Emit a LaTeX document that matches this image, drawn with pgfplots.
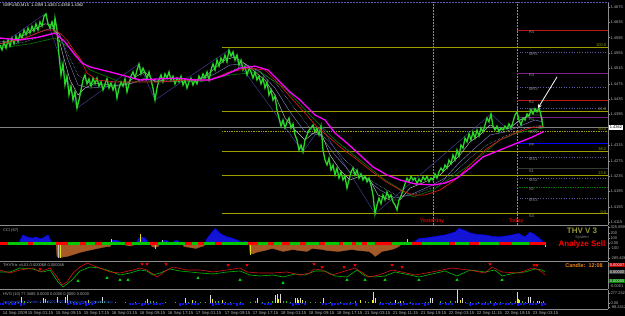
\documentclass[border=0pt]{standalone}
\usepackage{pgfplots}
\pgfplotsset{compat=1.18}
\usepackage{fontspec}
\setmainfont{Liberation Sans}
\usetikzlibrary{arrows.meta}
\definecolor{fibc}{rgb}{0.62,0.62,0.0}
\definecolor{pricec}{RGB}{40,215,40}
\definecolor{lblc}{RGB}{175,175,175}
\definecolor{axc}{RGB}{140,140,140}
\definecolor{mrc}{RGB}{90,90,170}
\definecolor{pvred}{RGB}{185,20,20}
\definecolor{pvpur}{RGB}{125,30,135}
\definecolor{brownc}{RGB}{165,90,40}
\definecolor{cciblue}{RGB}{20,20,215}
\definecolor{thvc}{RGB}{150,150,50}
\definecolor{candc}{RGB}{240,130,20}
\definecolor{pivlbl}{RGB}{130,130,130}
\definecolor{zzc}{RGB}{70,70,170}
\definecolor{ma2c}{RGB}{120,120,190}
\definecolor{ma3c}{RGB}{150,180,220}
\definecolor{madg}{RGB}{0,125,0}
\definecolor{ma1c}{RGB}{190,190,190}
\definecolor{redma}{RGB}{205,25,25}
\definecolor{magc}{RGB}{255,0,255}
\definecolor{trixg}{RGB}{0,190,0}
\definecolor{trixr}{RGB}{215,20,20}
\definecolor{arrg}{RGB}{0,220,0}
\definecolor{ccig}{RGB}{0,200,0}
\definecolor{volb}{RGB}{20,20,235}
\definecolor{volg}{RGB}{60,190,30}
\definecolor{voly}{RGB}{235,235,40}
\definecolor{volw}{RGB}{220,220,220}
\definecolor{intbl}{RGB}{40,60,255}
\newcommand{\fs}[1]{\fontsize{#1}{#1}\selectfont}
\pgfplotsset{mt/.style={scale only axis, width=608pt, xmin=0, xmax=608, anchor=south west,
  axis x line*=bottom, axis y line*=right, axis line style={draw=axc, line width=0.5pt},
  xtick=\empty, ytick=\empty, yticklabel pos=right, tick align=outside, major tick length=1.5pt,
  tick style={axc, line width=0.4pt},
  yticklabel style={font=\fs{4}, text=lblc, inner sep=0.8pt},
  xticklabel style={font=\fs{4.3}, text=lblc, inner sep=0.6pt}}}
\tikzset{pvl/.style={font=\fs{4.3}, text=pivlbl, anchor=north west, inner sep=0.6pt},
  fbl/.style={font=\fs{4}, text=fibc, anchor=south east, inner sep=0.6pt}}
\begin{document}
\begin{tikzpicture}
\fill[black] (0pt,0pt) rectangle (625pt,316pt);
% ================= MAIN PRICE PANEL =================
\begin{axis}[mt, at={(0pt,91pt)}, height=223pt, ymin=1.4108, ymax=1.46878,
 ytick={1.4115,1.4155,1.4195,1.4235,1.4275,1.4315,1.4395,1.4435,1.4475,1.4515,1.4555,1.4595,1.4635,1.4675},
 yticklabels={1.4115,1.4155,1.4195,1.4235,1.4275,1.4315,1.4395,1.4435,1.4475,1.4515,1.4555,1.4595,1.4635,1.4675}]
\addplot[axc, densely dotted, line width=0.5pt] coordinates {(433,1.4108)(433,1.46878)};
\addplot[color=fibc, densely dotted, line width=0.5pt] coordinates {(517,1.4108)(517,1.46878)};
\addplot[gray, line width=0.5pt] coordinates {(0,1.4362)(608,1.4362)};
\addplot[color=fibc, line width=0.8pt] coordinates {(222,1.4571)(608,1.4571)};
\addplot[color=fibc, line width=0.8pt] coordinates {(222,1.4404)(608,1.4404)};
\addplot[color=fibc, densely dotted, line width=0.7pt] coordinates {(222,1.4352)(608,1.4352)};
\addplot[color=fibc, line width=0.8pt] coordinates {(222,1.4300)(608,1.4300)};
\addplot[color=fibc, line width=0.8pt] coordinates {(222,1.4238)(608,1.4238)};
\addplot[color=fibc, line width=0.8pt] coordinates {(222,1.4137)(608,1.4137)};
\node[fbl] at (axis cs:607,1.4571) {100.0};
\node[fbl] at (axis cs:607,1.4404) {61.8};
\node[fbl] at (axis cs:607,1.4352) {50.0};
\node[fbl] at (axis cs:607,1.4300) {38.2};
\node[fbl] at (axis cs:607,1.4238) {23.6};
\node[fbl] at (axis cs:607,1.4137) {0.0};
\addplot[pvred, line width=0.8pt] coordinates {(517,1.4615)(608,1.4615)};
\addplot[mrc, dotted, line width=0.6pt] coordinates {(517,1.4558)(608,1.4558)};
\addplot[pvpur, line width=0.9pt] coordinates {(517,1.4503)(608,1.4503)};
\addplot[mrc, dotted, line width=0.6pt] coordinates {(517,1.4467)(608,1.4467)};
\addplot[pvred, line width=0.8pt] coordinates {(517,1.4433)(608,1.4433)};
\addplot[mrc, dotted, line width=0.6pt] coordinates {(517,1.4412)(608,1.4412)};
\addplot[pvpur, line width=0.8pt] coordinates {(517,1.4389)(608,1.4389)};
\addplot[blue, line width=0.9pt] coordinates {(517,1.4321)(608,1.4321)};
\addplot[mrc, dotted, line width=0.6pt] coordinates {(517,1.4285)(608,1.4285)};
\addplot[gray!45!black, line width=0.9pt] coordinates {(517,1.4254)(608,1.4254)};
\addplot[mrc, dotted, line width=0.6pt] coordinates {(517,1.4230)(608,1.4230)};
\addplot[green!45!black, densely dotted, line width=0.7pt] coordinates {(517,1.4207)(608,1.4207)};
\addplot[mrc, dotted, line width=0.6pt] coordinates {(517,1.4178)(608,1.4178)};
\node[pvl] at (axis cs:528,1.4615) {R4};
\node[pvl] at (axis cs:528,1.4558) {MR4};
\node[pvl] at (axis cs:528,1.4503) {R3};
\node[pvl] at (axis cs:528,1.4467) {MR3};
\node[pvl] at (axis cs:528,1.4433) {R2};
\node[pvl] at (axis cs:528,1.4412) {MR2};
\node[pvl] at (axis cs:528,1.4389) {R1};
\node[pvl] at (axis cs:528,1.4355) {MR1};
\node[pvl] at (axis cs:528,1.4321) {PP};
\node[pvl] at (axis cs:528,1.4285) {MS1};
\node[pvl] at (axis cs:528,1.4254) {S1};
\node[pvl] at (axis cs:528,1.4230) {MS2};
\node[pvl] at (axis cs:528,1.4207) {S2};
\node[pvl] at (axis cs:528,1.4178) {MS3};
\node[pvl] at (axis cs:528,1.4137) {S3};
\addplot[zzc, line width=0.4pt] coordinates {(8,1.4589)(45,1.4657)(77,1.4412)(139,1.4527)(155,1.4433)(229,1.4563)(303,1.4298)(321,1.4365)(375,1.4137)(491,1.4397)(507,1.4358)(539,1.4412)};
\addplot[ma2c, line width=0.45pt] coordinates {(0,1.4584)(20,1.4589)(40,1.4610)(52,1.4620)(60,1.4602)(68,1.4537)(78,1.4472)(90,1.4464)(110,1.4469)(130,1.4475)(145,1.4490)(160,1.4480)(180,1.4482)(200,1.4485)(215,1.4501)(230,1.4524)(245,1.4527)(260,1.4506)(275,1.4464)(290,1.4402)(305,1.4350)(320,1.4342)(335,1.4290)(350,1.4246)(365,1.4230)(380,1.4199)(395,1.4178)(410,1.4186)(430,1.4209)(445,1.4230)(460,1.4272)(475,1.4308)(490,1.4342)(505,1.4350)(520,1.4365)(535,1.4381)(543,1.4376)};
\addplot[ma3c, densely dotted, line width=0.5pt] coordinates {(0,1.4573)(25,1.4584)(45,1.4602)(58,1.4610)(66,1.4563)(78,1.4498)(92,1.4472)(120,1.4469)(145,1.4485)(170,1.4482)(200,1.4480)(220,1.4495)(240,1.4519)(258,1.4511)(275,1.4480)(292,1.4420)(310,1.4360)(328,1.4329)(345,1.4277)(362,1.4238)(380,1.4209)(398,1.4183)(415,1.4189)(435,1.4207)(455,1.4246)(470,1.4282)(487,1.4316)(505,1.4339)(525,1.4360)(543,1.4368)};
\addplot[madg, line width=0.6pt] coordinates {(0,1.4568)(30,1.4579)(55,1.4594)(70,1.4568)(90,1.4511)(120,1.4480)(160,1.4480)(200,1.4480)(230,1.4498)(260,1.4506)(285,1.4464)(310,1.4394)(335,1.4329)(360,1.4277)(385,1.4225)(413,1.4181)(433,1.4199)(467,1.4259)(500,1.4329)(517,1.4347)(543,1.4360)};
\addplot[ma1c, line width=0.45pt] coordinates {(0,1.4579)(15,1.4589)(30,1.4610)(45,1.4631)(52,1.4628)(58,1.4602)(63,1.4550)(70,1.4485)(78,1.4446)(85,1.4464)(95,1.4477)(110,1.4472)(125,1.4472)(135,1.4493)(145,1.4506)(155,1.4480)(165,1.4485)(180,1.4485)(195,1.4485)(205,1.4493)(215,1.4516)(225,1.4537)(235,1.4545)(245,1.4527)(255,1.4506)(265,1.4485)(275,1.4446)(285,1.4386)(295,1.4355)(305,1.4329)(315,1.4350)(322,1.4342)(330,1.4290)(340,1.4251)(350,1.4225)(360,1.4235)(370,1.4225)(378,1.4186)(390,1.4173)(400,1.4173)(410,1.4204)(425,1.4220)(440,1.4238)(450,1.4264)(460,1.4290)(470,1.4324)(480,1.4342)(490,1.4368)(500,1.4355)(510,1.4360)(520,1.4381)(530,1.4394)(540,1.4394)(543,1.4381)};
\addplot[pricec, line width=1.3pt] coordinates {
(0,1.4576)(2,1.4563)(4,1.4584)(6,1.4568)(8,1.4589)(10,1.4573)(12,1.4594)(14,1.4579)(16,1.4599)(18,1.4584)
(20,1.4605)(22,1.4594)(24,1.4615)(26,1.4602)(28,1.4620)(30,1.4607)(32,1.4625)(34,1.4612)(36,1.4631)(38,1.4615)
(40,1.4636)(42,1.4625)(44,1.4651)(46,1.4657)(48,1.4631)(50,1.4620)(52,1.4636)(54,1.4615)(55,1.4646)(57,1.4615)
(59,1.4550)(61,1.4498)(63,1.4527)(65,1.4472)(67,1.4495)(69,1.4446)(71,1.4469)(73,1.4433)(75,1.4454)(77,1.4412)
(79,1.4433)(81,1.4459)(83,1.4485)(85,1.4498)(87,1.4475)(89,1.4488)(91,1.4469)(93,1.4490)(95,1.4475)(97,1.4490)
(99,1.4469)(101,1.4480)(103,1.4459)(105,1.4475)(107,1.4488)(109,1.4464)(111,1.4477)(113,1.4459)(115,1.4475)(117,1.4438)
(119,1.4464)(121,1.4480)(123,1.4469)(125,1.4488)(127,1.4454)(129,1.4475)(131,1.4495)(133,1.4506)(135,1.4490)(137,1.4511)
(139,1.4527)(141,1.4501)(143,1.4516)(145,1.4503)(147,1.4490)(149,1.4506)(151,1.4485)(153,1.4464)(155,1.4433)(157,1.4464)
(159,1.4485)(161,1.4498)(163,1.4480)(165,1.4501)(167,1.4490)(169,1.4506)(171,1.4485)(173,1.4495)(175,1.4475)(177,1.4490)
(179,1.4480)(181,1.4495)(183,1.4472)(185,1.4485)(187,1.4464)(189,1.4480)(191,1.4490)(193,1.4472)(195,1.4485)(197,1.4475)
(199,1.4495)(201,1.4485)(203,1.4501)(205,1.4490)(207,1.4506)(209,1.4485)(211,1.4511)(213,1.4527)(215,1.4511)(217,1.4537)
(219,1.4521)(221,1.4542)(223,1.4532)(225,1.4550)(227,1.4532)(229,1.4563)(231,1.4547)(233,1.4558)(235,1.4537)(237,1.4550)
(239,1.4524)(241,1.4537)(243,1.4511)(245,1.4521)(247,1.4498)(249,1.4516)(251,1.4506)(253,1.4490)(255,1.4506)(257,1.4485)
(259,1.4495)(261,1.4475)(263,1.4490)(265,1.4464)(267,1.4480)(269,1.4446)(271,1.4459)(273,1.4433)(275,1.4443)(277,1.4407)
(279,1.4386)(281,1.4365)(283,1.4381)(285,1.4360)(287,1.4376)(289,1.4386)(291,1.4360)(293,1.4371)(295,1.4342)(297,1.4329)
(299,1.4303)(301,1.4316)(303,1.4298)(305,1.4329)(307,1.4342)(309,1.4355)(311,1.4360)(313,1.4368)(315,1.4350)(317,1.4360)
(319,1.4342)(321,1.4365)(323,1.4303)(325,1.4277)(327,1.4264)(329,1.4282)(331,1.4251)(333,1.4264)(335,1.4238)(337,1.4256)
(339,1.4230)(341,1.4246)(343,1.4225)(345,1.4235)(347,1.4204)(349,1.4225)(351,1.4246)(353,1.4256)(355,1.4238)(357,1.4251)
(359,1.4230)(361,1.4241)(363,1.4225)(365,1.4235)(367,1.4220)(369,1.4230)(371,1.4212)(373,1.4186)(375,1.4137)(377,1.4160)
(379,1.4178)(381,1.4163)(383,1.4186)(385,1.4173)(387,1.4194)(389,1.4178)(391,1.4186)(393,1.4168)(395,1.4160)(397,1.4147)
(399,1.4173)(401,1.4183)(403,1.4199)(405,1.4215)(407,1.4230)(409,1.4220)(411,1.4235)(413,1.4225)(415,1.4230)(417,1.4215)
(419,1.4228)(421,1.4220)(423,1.4233)(425,1.4225)(427,1.4235)(429,1.4220)(431,1.4230)(433,1.4225)(435,1.4241)(437,1.4230)
(439,1.4246)(441,1.4256)(443,1.4248)(445,1.4264)(447,1.4256)(449,1.4277)(451,1.4267)(453,1.4290)(455,1.4277)(457,1.4303)
(459,1.4287)(461,1.4316)(463,1.4308)(465,1.4334)(467,1.4324)(469,1.4345)(471,1.4329)(473,1.4350)(475,1.4334)(477,1.4355)
(479,1.4339)(481,1.4360)(483,1.4350)(485,1.4368)(487,1.4386)(489,1.4376)(491,1.4397)(493,1.4365)(495,1.4355)(497,1.4365)
(499,1.4350)(501,1.4360)(503,1.4355)(505,1.4365)(507,1.4358)(509,1.4371)(511,1.4360)(513,1.4376)(515,1.4394)(517,1.4402)
(519,1.4381)(521,1.4368)(523,1.4386)(525,1.4381)(527,1.4397)(529,1.4391)(531,1.4407)(533,1.4397)(535,1.4410)(537,1.4402)
(539,1.4412)(541,1.4394)(543,1.4362)};
\addplot[redma, line width=0.7pt] coordinates {(0,1.4579)(25,1.4594)(45,1.4615)(55,1.4615)(62,1.4602)(67,1.4589)(75,1.4558)(80,1.4542)(87,1.4503)(97,1.4485)(115,1.4480)(133,1.4480)(160,1.4480)(185,1.4485)(210,1.4485)(230,1.4506)(250,1.4516)(265,1.4511)(280,1.4472)(293,1.4433)(305,1.4399)(317,1.4363)(330,1.4334)(340,1.4311)(355,1.4282)(370,1.4251)(385,1.4222)(400,1.4199)(413,1.4186)(425,1.4186)(440,1.4199)(455,1.4225)(470,1.4264)(485,1.4303)(500,1.4329)(515,1.4347)(530,1.4360)(543,1.4365)};
\addplot[magc, line width=1.3pt] coordinates {(0,1.4594)(20,1.4589)(40,1.4597)(55,1.4607)(65,1.4584)(75,1.4550)(82,1.4529)(90,1.4519)(110,1.4506)(140,1.4485)(160,1.4488)(177,1.4490)(195,1.4485)(210,1.4485)(225,1.4498)(240,1.4516)(255,1.4521)(268,1.4511)(280,1.4480)(290,1.4454)(300,1.4433)(315,1.4394)(325,1.4381)(335,1.4347)(347,1.4321)(360,1.4290)(373,1.4259)(387,1.4238)(400,1.4225)(415,1.4215)(433,1.4212)(445,1.4217)(457,1.4230)(470,1.4256)(483,1.4285)(500,1.4303)(517,1.4321)(530,1.4334)(543,1.4350)};
\draw[white, line width=0.8pt, -{Stealth[length=4pt,width=4pt]}] (axis cs:557,1.4493) -- (axis cs:538,1.4412);
\node[font=\fs{5.5}, text=red] at (axis cs:432,1.4118) {Yesterday};
\node[font=\fs{5.5}, text=red] at (axis cs:516,1.4118) {Today};
\end{axis}
% ================= CCI PANEL =================
\begin{axis}[mt, at={(0pt,55pt)}, height=35pt, ymin=-350, ymax=350,
 ytick={-285.626,-100,0,100,200,325.859}, yticklabels={-285.626,-100,0.00,100,200,325.859}]
\addplot[draw=blue, line width=0.4pt, fill=cciblue] coordinates {(18,0)(20,60)(23,170)(26,140)(29,120)(33,110)(36,130)(40,100)(43,110)(46,150)(48,170)(50,90)(52,0)};
\addplot[draw=blue, line width=0.4pt, fill=cciblue] coordinates {(110,0)(112,60)(116,70)(120,40)(122,0)};
\addplot[draw=blue, line width=0.4pt, fill=cciblue] coordinates {(136,0)(138,90)(141,130)(144,120)(147,60)(149,0)};
\addplot[draw=blue, line width=0.4pt, fill=cciblue] coordinates {(160,0)(162,50)(166,60)(169,30)(170,0)};
\addplot[draw=blue, line width=0.4pt, fill=cciblue] coordinates {(172,0)(174,50)(178,60)(180,0)};
\addplot[draw=blue, line width=0.4pt, fill=cciblue] coordinates {(205,0)(207,100)(211,200)(215,300)(218,240)(220,200)(224,160)(227,130)(230,120)(233,100)(237,70)(240,40)(242,0)};
\addplot[draw=blue, line width=0.4pt, fill=cciblue] coordinates {(243,0)(244,40)(247,40)(248,0)};
\addplot[draw=blue, line width=0.4pt, fill=cciblue] coordinates {(413,0)(416,60)(419,100)(425,110)(432,130)(438,150)(445,170)(450,200)(455,230)(459,300)(462,280)(465,260)(468,230)(472,200)(478,180)(485,170)(490,150)(499,130)(505,150)(512,170)(516,190)(519,200)(522,160)(525,130)(528,190)(530,230)(533,200)(535,170)(539,110)(542,60)(544,0)};
\addplot[draw=brownc, line width=0.3pt, fill=brownc] coordinates {(56,0)(57,-260)(60,-280)(63,-270)(67,-260)(72,-230)(77,-200)(80,-180)(86,-150)(93,-120)(100,-90)(105,-70)(110,-60)(112,0)};
\addplot[draw=brownc, line width=0.3pt, fill=brownc] coordinates {(124,0)(126,-40)(130,-50)(134,-30)(136,0)};
\addplot[draw=brownc, line width=0.3pt, fill=brownc] coordinates {(150,0)(152,-60)(155,-80)(158,-60)(160,0)};
\addplot[draw=brownc, line width=0.3pt, fill=brownc] coordinates {(182,0)(184,-60)(190,-80)(196,-100)(200,-70)(204,-50)(205,0)};
\addplot[draw=brownc, line width=0.3pt, fill=brownc] coordinates {(249,0)(250,-200)(253,-210)(256,-180)(260,-160)(265,-140)(270,-110)(273,-100)(278,-130)(283,-160)(288,-140)(293,-120)(298,-140)(303,-150)(307,-160)(312,-100)(317,-110)(322,-120)(327,-140)(332,-150)(339,-160)(345,-140)(352,-120)(358,-140)(364,-150)(369,-160)(372,-200)(375,-260)(378,-220)(382,-160)(387,-140)(392,-120)(396,-90)(399,-60)(402,0)};
\addplot[ycomb, yellow!90!black, line width=1pt] coordinates {(60,-290)(111,90)(140,190)(250,-230)(407,80)};
\addplot[ycomb, lightgray, line width=1pt] coordinates {(58,-300)(155,-120)(162,70)(545,-70)};
\addplot[ccig, line width=2.4pt] coordinates {(0,0)(546,0)};
\addplot[red, line width=2.4pt, unbounded coords=jump] coordinates {(0,0)(8,0)(8,nan)(28,0)(33,0)(33,nan)(56,0)(68,0)(68,nan)(80,0)(86,0)(86,nan)(95,0)(102,0)(102,nan)(125,0)(132,0)(132,nan)(150,0)(158,0)(158,nan)(185,0)(192,0)(192,nan)(198,0)(204,0)(204,nan)(215,0)(222,0)(222,nan)(248,0)(258,0)(258,nan)(268,0)(274,0)(274,nan)(282,0)(290,0)(290,nan)(300,0)(306,0)(306,nan)(319,0)(325,0)(325,nan)(339,0)(343,0)(343,nan)(352,0)(356,0)(356,nan)(362,0)(367,0)(367,nan)(375,0)(392,0)(392,nan)(412,0)(422,0)(422,nan)(449,0)(455,0)(455,nan)(469,0)(479,0)(479,nan)(499,0)(512,0)(512,nan)(529,0)(546,0)};
\end{axis}
% ================= TRIX PANEL =================
\begin{axis}[mt, at={(0pt,27pt)}, height=27pt, ymin=-14, ymax=13]
\addplot[trixg, line width=0.6pt] coordinates {(0,3)(10,3)(20,7)(33,6)(43,3)(50,5)(58,-7)(63,-12)(72,-5)(80,4)(90,8)(100,7)(110,4)(120,0)(130,2)(140,5)(147,4)(153,0)(160,2)(170,6)(180,4)(190,3)(200,2)(213,1)(227,3)(240,4)(250,0)(260,-1)(273,0)(283,-2)(295,1)(305,0)(315,4)(325,4)(335,-1)(347,-2)(357,5)(365,-1)(375,-2)(385,-1)(395,3)(405,1)(419,-2)(432,1)(445,4)(457,-1)(470,5)(485,3)(495,5)(502,-1)(515,2)(525,3)(535,6)(542,5)(545,3)};
\addplot[trixr, line width=0.6pt] coordinates {(0,5)(10,2)(20,5)(33,7)(40,3)(50,7)(57,-2)(62,-10)(67,-7)(73,2)(80,8)(87,12)(97,8)(110,3)(120,2)(133,5)(140,7)(147,5)(157,-2)(167,5)(173,8)(187,5)(200,5)(213,3)(227,5)(240,7)(247,3)(260,2)(273,2)(287,3)(300,0)(310,2)(314,6)(322,5)(332,0)(342,3)(355,7)(369,-2)(379,0)(392,5)(402,3)(415,0)(432,3)(452,7)(469,5)(485,2)(492,8)(502,3)(519,2)(532,7)(537,6)(542,3)(545,0)};
\addplot[only marks, mark=triangle*, mark size=1.4pt, red, mark options={rotate=180}] coordinates {(40,6)(88,15)(142,11)(147,11)(166,11)(228,10)(247,10)(314,11)(322,8)(344,8)(355,10)(392,10)(402,8)(490,11)(534,10)(537,10)};
\addplot[only marks, mark=triangle*, mark size=1.4pt, arrg] coordinates {(78,-6)(107,-3)(120,-5)(128,-5)(198,-3)(240,-5)(283,-8)(347,-5)(365,-5)(385,-5)(419,-5)(457,-5)(502,-5)};
\end{axis}
% ================= VOLUME PANEL =================
\begin{axis}[mt, at={(0pt,7pt)}, height=19pt, ymin=-160, ymax=360,
 ytick={-98.2412,0,277.242}, yticklabels={-98.2412,0.00,277.242},
 xtick={2,27,55,83,111,139,167,195,224,252,280,308,336,364,392,420,448,476,504,532},
 xticklabels={14 Sep 2009,15 Sep 01:15,15 Sep 09:15,15 Sep 17:15,16 Sep 01:15,16 Sep 09:15,16 Sep 17:15,17 Sep 01:15,17 Sep 09:15,17 Sep 17:15,18 Sep 01:15,18 Sep 09:15,18 Sep 17:15,21 Sep 03:15,21 Sep 11:15,21 Sep 19:15,22 Sep 03:15,22 Sep 11:15,22 Sep 19:15,23 Sep 03:15},
 xticklabel style={anchor=north west}]
\addplot[ycomb, volb, line width=2.4pt] coordinates {
(0,-40)(3,-55)(6,-35)(9,-60)(12,-45)(15,-50)(18,-30)(21,-65)(24,-40)
(68,-55)(71,-35)(74,-60)(77,-45)(80,-50)(83,-30)(86,-65)(89,-40)(92,-55)(95,-35)
(130,-60)(133,-45)(136,-50)(139,-30)(142,-65)(145,-40)(148,-55)(151,-35)(154,-60)(157,-45)(160,-50)(163,-30)
(180,-65)(183,-40)(186,-55)(189,-35)(192,-60)(195,-45)(198,-50)
(210,-30)(213,-65)(216,-40)(219,-55)(222,-35)(225,-60)(228,-45)(231,-50)(234,-30)(237,-65)(240,-40)(243,-55)
(262,-35)(265,-60)(268,-45)(271,-50)
(290,-30)(293,-65)(296,-40)(299,-55)(302,-35)(305,-60)
(323,-45)(326,-50)(329,-30)(332,-65)(335,-40)(338,-55)(341,-35)(344,-60)(347,-45)(350,-50)(353,-30)(356,-65)
(380,-40)(383,-55)(386,-35)(389,-60)(392,-45)(395,-50)(398,-30)(401,-65)(404,-40)(407,-55)(410,-35)(413,-60)(416,-45)(419,-50)(422,-30)(425,-65)(428,-40)
(440,-55)(443,-35)(446,-60)(449,-45)(452,-50)
(467,-30)(470,-65)(473,-40)(476,-55)(479,-35)(482,-60)(485,-45)(488,-50)(491,-30)(494,-65)(497,-40)(500,-55)(503,-35)(506,-60)(509,-45)(512,-50)(515,-30)(518,-65)(521,-40)(524,-55)(527,-35)(530,-60)(533,-45)(536,-50)(539,-30)(542,-65)(545,-40)};
\addplot[ycomb, volg, line width=1pt] coordinates {(5,20)(10,30)(15,40)(18,25)(24,50)(27,30)(30,20)(40,35)(47,50)(50,40)(60,30)(70,60)(73,40)(76,25)(85,50)(90,40)(95,60)(98,45)(100,70)(104,50)(108,30)(115,20)(125,25)(135,30)(145,60)(150,50)(153,70)(156,40)(165,20)(175,25)(188,40)(195,50)(200,30)(205,40)(215,60)(218,50)(225,40)(230,20)(240,30)(250,35)(255,50)(262,40)(268,30)(272,50)(283,60)(286,50)(290,40)(305,50)(310,30)(315,25)(320,40)(330,20)(340,25)(350,40)(355,50)(365,60)(368,40)(380,30)(390,25)(398,40)(403,50)(410,30)(425,40)(428,30)(440,50)(445,40)(450,60)(455,50)(465,40)(470,30)(478,40)(485,30)(490,50)(495,40)(500,30)(510,40)(515,50)(522,60)(525,40)(533,50)(541,40)(543,60)};
\addplot[ycomb, voly, line width=1pt] coordinates {(45,115)(88,88)(147,115)(192,88)(212,115)(222,88)(275,88)(278,115)(298,88)(302,88)(360,88)(372,88)(400,60)(460,88)(518,115)(519,88)(537,60)(539,60)};
\addplot[ycomb, volw, line width=0.9pt] coordinates {(21,170)(43,142)(57,170)(65,170)(67,225)(102,170)(185,142)(210,225)(257,142)(275,225)(277,252)(280,252)(295,142)(297,142)(300,142)(323,142)(373,307)(375,142)(395,88)(430,142)(432,142)(457,350)(462,142)(517,307)(528,170)(530,170)};
\end{axis}
% ================= TEXTS OUTSIDE AXES =================
\draw[mrc, densely dotted, line width=0.5pt] (0pt,314pt) -- (608pt,314pt);
\node[font=\fs{4}, text=white, anchor=west, inner sep=0pt] at (3pt,311pt) {GBPUSD,M15\ \ 1.4359 1.4363 1.4358 1.4362};
\node[font=\fs{4}, text=black, fill=white, anchor=west, inner sep=0.6pt] at (609pt,188.5pt) {1.4362};
\node[font=\fs{4}, text=lblc, anchor=west, inner sep=0pt] at (3pt,86pt) {CCI (67)};
\node[font=\bfseries\fs{8}, text=thvc] at (582pt,85pt) {THV V 3};
\node[font=\fs{4}, text=gray] at (582pt,78.5pt) {System};
\node[font=\bfseries\fs{8}, text=red] at (582pt,72pt) {Analyze Sell};
\node[font=\fs{4}, text=lblc, anchor=west, inner sep=0pt] at (3pt,51pt) {THVTrix v4.01 0.000068 0.000046};
\node[font=\bfseries\fs{5.5}, text=candc] at (584pt,50pt) {Candle:\ \ 12:08};
\node[font=\fs{4}, text=white, fill=red!75!black, anchor=west, inner sep=0.6pt] at (609pt,51pt) {0.00007};
\node[font=\fs{4}, text=white, fill=gray!50!black, anchor=west, inner sep=0.6pt] at (609pt,44pt) {0.00000};
\node[font=\fs{4}, text=white, fill=green!50!black, anchor=west, inner sep=0.6pt] at (609pt,35pt) {0.00005};
\node[font=\fs{4}, text=lblc, anchor=west, inner sep=0.6pt] at (609pt,30pt) {-0.0001};
\node[font=\fs{4}, text=lblc, anchor=west, inner sep=0pt] at (3pt,22pt) {HVO (10) 77.3485 0.0000 0.0000 0.0000 0.0000};
\node[font=\fs{3.8}, text=intbl, anchor=west, inner sep=0pt] at (3pt,13pt) {InterbankFX - Trader 4, © 2001-2007 MetaQuotes Software Corp.};
\pgfresetboundingbox
\path[use as bounding box] (0pt,0pt) rectangle (625pt,316pt);
\end{tikzpicture}
\end{document}
